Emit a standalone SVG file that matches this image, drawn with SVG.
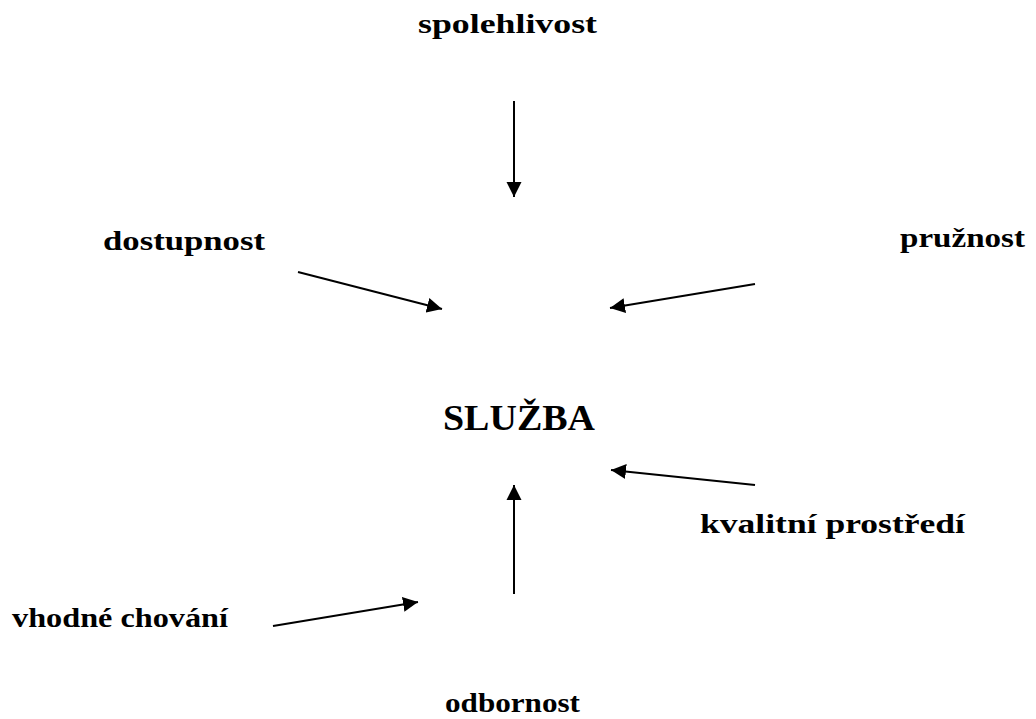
<svg xmlns="http://www.w3.org/2000/svg" width="1036" height="719" viewBox="0 0 1036 719">
<style>
.lbl{font-family:"Liberation Serif","DejaVu Serif",serif;font-weight:bold;font-size:28px;fill:#000}
.big{font-size:35px}
.con{stroke:#000;stroke-width:2;fill:none;marker-end:url(#ah)}
</style>
<defs>
<marker id="ah" markerUnits="userSpaceOnUse" markerWidth="16" markerHeight="16" viewBox="0 0 16 15" refX="15" refY="7.5" orient="auto">
<path d="M0,0 L15,7.5 L0,15 z" fill="#000"/>
</marker>
</defs>
<rect width="1036" height="719" fill="#fff"/>
<g id="spolehlivost"><text class="lbl" x="418" y="33" textLength="179" lengthAdjust="spacingAndGlyphs">spolehlivost</text></g>
<g id="dostupnost"><text class="lbl" x="103" y="250" textLength="162" lengthAdjust="spacingAndGlyphs">dostupnost</text></g>
<g id="pruznost"><text class="lbl" x="900" y="247" textLength="125" lengthAdjust="spacingAndGlyphs">pružnost</text></g>
<g id="sluzba"><text class="lbl big" x="443" y="430" textLength="152" lengthAdjust="spacingAndGlyphs">SLUŽBA</text></g>
<g id="kvalitni-prostredi"><text class="lbl" x="700" y="533" textLength="265" lengthAdjust="spacingAndGlyphs">kvalitní prostředí</text></g>
<g id="vhodne-chovani"><text class="lbl" x="12" y="627" textLength="216" lengthAdjust="spacingAndGlyphs">vhodné chování</text></g>
<g id="odbornost"><text class="lbl" x="445" y="712" textLength="135" lengthAdjust="spacingAndGlyphs">odbornost</text></g>
<g id="connectors">
<line class="con" x1="514" y1="101" x2="514" y2="197"/>
<line class="con" x1="298" y1="272" x2="442" y2="309"/>
<line class="con" x1="755" y1="284" x2="610" y2="308"/>
<line class="con" x1="755" y1="485" x2="611" y2="470"/>
<line class="con" x1="514" y1="594" x2="514" y2="485"/>
<line class="con" x1="273" y1="626" x2="418" y2="602"/>
</g>
</svg>
